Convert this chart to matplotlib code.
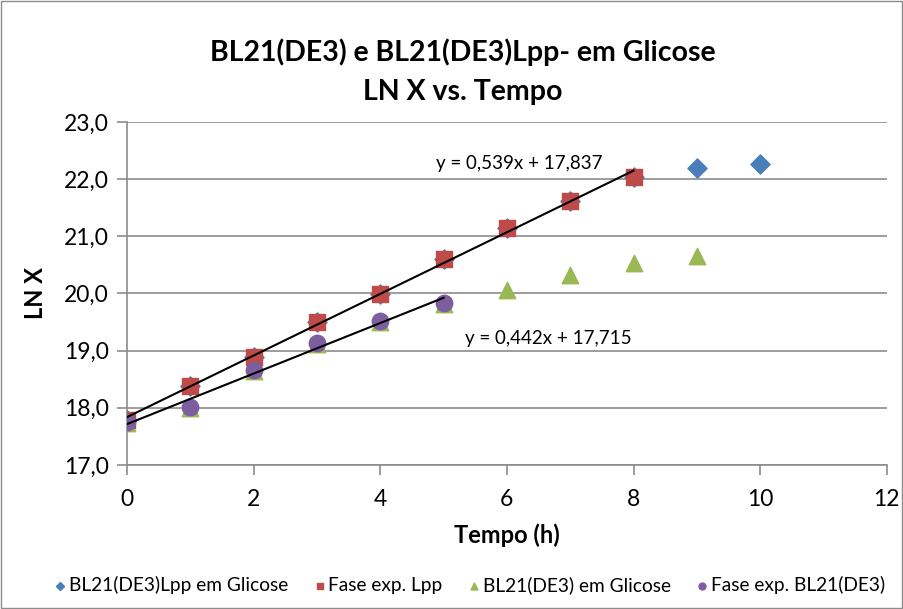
import numpy as np
import matplotlib.pyplot as plt
from matplotlib.patches import Rectangle

plt.rcParams["font.family"] = ["Lato", "DejaVu Sans"]

tempo = [0, 1, 2, 3, 4, 5, 6, 7, 8, 9, 10]
lpp = [17.79, 18.38, 18.89, 19.50, 19.99, 20.60, 21.15, 21.62, 22.04, 22.19, 22.26]
tempo_exp_lpp = [0, 1, 2, 3, 4, 5, 6, 7, 8]
exp_lpp = [17.79, 18.38, 18.89, 19.50, 19.99, 20.60, 21.15, 21.62, 22.04]
tempo_bl = [0, 1, 2, 3, 4, 5, 6, 7, 8, 9]
bl = [17.74, 17.99, 18.65, 19.12, 19.50, 19.82, 20.06, 20.33, 20.53, 20.66]
tempo_exp_bl = [0, 1, 2, 3, 4, 5]
exp_bl = [17.76, 18.02, 18.66, 19.14, 19.52, 19.84]

fit_lpp = (0.539, 17.837)
fit_bl = (0.442, 17.715)

fig = plt.figure(figsize=(9.04, 6.09), dpi=100)
fig.patches.append(Rectangle((0.001, 0.001), 0.997, 0.997, transform=fig.transFigure,
                             fill=False, edgecolor="#8c8c8c", linewidth=1))
ax = fig.add_axes([0.1405, 0.2365, 0.8405, 0.5632])

ax.scatter(tempo, lpp, marker="D", s=95, color="#4a7ebb", label="BL21(DE3)Lpp em Glicose", zorder=3)
ax.scatter(tempo_exp_lpp, exp_lpp, marker="s", s=130, color="#be4b48", label="Fase exp. Lpp", zorder=4)
ax.scatter(tempo_bl, bl, marker="^", s=140, color="#98b954", label="BL21(DE3) em Glicose", zorder=3)
ax.scatter(tempo_exp_bl, exp_bl, marker="o", s=140, color="#7d5fa0", label="Fase exp. BL21(DE3)", zorder=4)

x1 = np.array([0, 8])
ax.plot(x1, fit_lpp[0] * x1 + fit_lpp[1], color="black", linewidth=1.5, zorder=5)
x2 = np.array([0, 5])
ax.plot(x2, fit_bl[0] * x2 + fit_bl[1], color="black", linewidth=1.5, zorder=5)

ax.text(6.2, 22.27, "y = 0,539x + 17,837", ha="center", va="center", fontsize=13.5)
ax.text(6.65, 19.22, "y = 0,442x + 17,715", ha="center", va="center", fontsize=13.5)

ax.set_xlim(0, 12)
ax.set_ylim(17, 23)
ax.set_xticks(range(0, 13, 2))
ax.set_yticks(range(17, 24))
ax.set_yticklabels([f"{v},0" for v in range(17, 24)])
ax.tick_params(labelsize=16.5, direction="out", length=7, color="#8c8c8c", width=1.2)
ax.tick_params(axis="x", pad=10)
ax.tick_params(axis="y", pad=6)
ax.yaxis.grid(True, color="#8c8c8c", linewidth=1.2)
ax.set_axisbelow(True)
for s in ["top", "right"]:
    ax.spines[s].set_visible(False)
for s in ["left", "bottom"]:
    ax.spines[s].set_color("#8c8c8c")
    ax.spines[s].set_linewidth(1.2)

ax.set_xlabel("Tempo (h)", fontsize=17, fontweight="bold", labelpad=10)
ax.set_ylabel("LN X", fontsize=17, fontweight="bold", labelpad=12)
fig.text(0.512, 0.915, "BL21(DE3) e BL21(DE3)Lpp- em Glicose", ha="center", va="center",
         fontsize=20.5, fontweight="bold")
fig.text(0.512, 0.849, "LN X vs. Tempo", ha="center", va="center", fontsize=20.5, fontweight="bold")

fig.legend(loc="center", bbox_to_anchor=(0.515, 0.04), ncol=4, frameon=False, fontsize=13.8,
           markerscale=0.42, handletextpad=-0.3, columnspacing=0.9, handlelength=1.5)

fig.savefig("out.png", dpi=100)
